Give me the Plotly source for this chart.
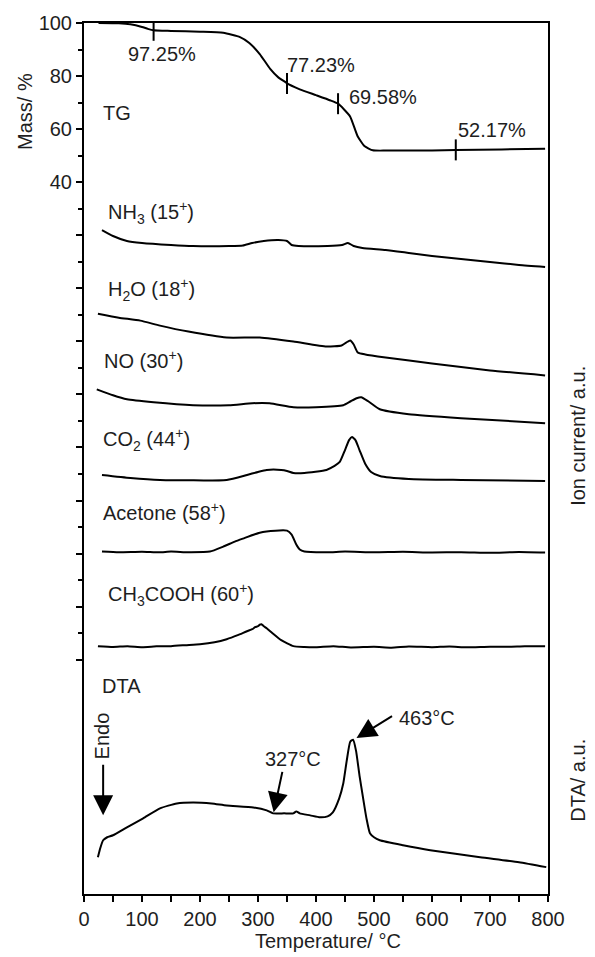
import numpy as np
import plotly.graph_objects as go

# ---------------- TG (mass loss, %) ----------------
tg_temp = [25, 60, 80, 100, 110, 120, 150, 200, 240, 269, 285, 303, 321, 335, 348, 350,
           372, 400, 425, 438, 448, 459, 472, 484, 498, 520, 560, 600, 641, 720, 795]
tg_mass = [100, 99.9, 99.5, 98.5, 97.8, 97.25, 97.0, 96.7, 96.3, 94.7, 92.5, 88.3, 82.7,
           79.5, 77.6, 77.23, 75.0, 72.8, 70.8, 69.58, 67.5, 64.7, 57.2, 53.5, 52.0, 51.9,
           51.9, 51.95, 52.17, 52.35, 52.6]

# labelled mass-loss points
step_temp = [120, 350, 438, 641]
step_mass = [97.25, 77.23, 69.58, 52.17]

# mass axis ticks: every 10 % (longer every 20 %), labels from 40 % up
mass_all = list(range(-140, 101, 10))
mass_major = list(range(-140, 101, 20))
mass_text = [str(v) if v >= 40 else "" for v in mass_major]

# temperature axis ticks, labelled every 100 °C
temp_ticks = list(range(0, 801, 50))
temp_text = [str(v) if v % 100 == 0 else "" for v in temp_ticks]

# ---------------- MS ion currents (a.u.) ----------------
nh3_temp = [31, 50, 74, 100, 150, 188, 250, 274, 290, 310, 335, 350, 358, 370, 420, 445,
            455, 465, 480, 520, 560, 600, 650, 700, 750, 795]
nh3_val = [37, 31, 26, 24, 22, 21, 21, 21.5, 24, 26, 27, 26, 22, 21, 21, 22, 24, 21, 19,
           17, 14, 11, 8, 5, 2, 0]

h2o_temp = [24, 60, 97, 131, 180, 246, 303, 361, 418, 444, 452, 459, 465, 472, 485, 520,
            600, 700, 795]
h2o_val = [62, 58, 55, 50, 44, 38, 38, 34, 29, 30, 33, 35, 31, 23, 21, 18, 12, 5, 0]

no_temp = [22, 50, 74, 120, 188, 250, 290, 320, 361, 400, 447, 460, 470, 478, 490, 510,
           560, 650, 795]
no_val = [34, 28, 24, 21, 18, 18, 20, 20, 16, 16, 18, 22, 25, 26, 22, 14, 9, 5, 0]

co2_temp = [31, 80, 131, 246, 281, 300, 315, 340, 350, 361, 380, 418, 432, 441, 450, 457,
            462, 468, 475, 485, 495, 510, 560, 650, 795]
co2_val = [6, 3, 1, 1, 6, 9, 11, 11, 10, 8, 8, 11, 15, 19, 31, 41, 44, 41, 31, 17, 9, 5,
           2, 1, 0]

acetone_temp = [31, 60, 100, 130, 150, 180, 217, 240, 260, 274, 303, 330, 350, 358, 366,
                372, 380, 420, 450, 500, 550, 600, 650, 700, 750, 795]
acetone_val = [1, 0.3, 0.8, 0.2, 1, 0.4, 1, 6, 11, 14, 20, 22, 22, 18, 8, 3, 1, 0.3, 1,
               0.2, 0.7, 0, 0.4, -0.2, 0.5, 0]

acoh_temp = [24, 50, 75, 100, 125, 150, 175, 200, 225, 246, 265, 281, 290, 295, 300, 303,
             306, 310, 315, 325, 340, 361, 380, 400, 430, 460, 500, 530, 560, 600, 630,
             660, 700, 730, 760, 795]
acoh_val = [1, 0.2, 1, 0, 0.8, 1, 2, 3, 5, 8, 12, 16, 18, 20, 21, 22.5, 23, 21, 19, 14, 7,
            1, 0.2, 0, 1, -0.3, 0.4, -0.5, 0.6, 0, 0.7, -0.2, 0.5, 0.3, 0.9, 1]

# ---------------- DTA (a.u.) ----------------
dta_temp = [24, 28, 33, 40, 50, 74, 102, 131, 160, 188, 220, 246, 292, 315, 326, 345, 361,
            366, 372, 390, 407, 420, 429, 440, 447, 453, 459, 464, 469, 475, 481, 487, 493,
            500, 510, 550, 597, 683, 750, 797]
dta_val = [10, 19, 27, 30, 32, 40, 49, 59, 64, 65, 64, 62, 60, 57, 54, 54, 54, 56, 54, 52,
           50, 51, 55, 69, 84, 107, 126, 128, 117, 92, 70, 49, 34, 30, 27, 22, 17, 10, 5, 0]

# curve labels (rich text) and vertical stacking offsets of each trace
ms_series = [
    ("NH<sub>3</sub> (15<sup>+</sup>)", nh3_temp, nh3_val, 630, 38, 0.782),
    ("H<sub>2</sub>O (18<sup>+</sup>)", h2o_temp, h2o_val, 521, 38, 0.694),
    ("NO (30<sup>+</sup>)", no_temp, no_val, 473, 31, 0.614),
    ("CO<sub>2</sub> (44<sup>+</sup>)", co2_temp, co2_val, 415, 29, 0.522),
    ("Acetone (58<sup>+</sup>)", acetone_temp, acetone_val, 343, 29, 0.439),
    ("CH<sub>3</sub>COOH (60<sup>+</sup>)", acoh_temp, acoh_val, 248, 38, 0.344),
]
dta_offset = 27

FONT = "Liberation Sans, Arial, sans-serif"
TXT = "#1e1e1e"
LINE = dict(color="black", width=2, shape="spline", smoothing=0.5)
MASS_RANGE = [100 - 875 / 2.665, 100]

fig = go.Figure()

fig.add_trace(go.Scatter(x=tg_temp, y=tg_mass, mode="lines", line=LINE,
                         yaxis="y", showlegend=False, hoverinfo="skip"))
fig.add_trace(go.Scatter(x=step_temp, y=step_mass, mode="markers",
                         marker=dict(symbol="line-ns", size=15,
                                     line=dict(color="black", width=2)),
                         yaxis="y", showlegend=False, hoverinfo="skip"))

for name, t, v, off, _, _ in ms_series:
    fig.add_trace(go.Scatter(x=t, y=[val + off for val in v], mode="lines", line=LINE,
                             yaxis="y2", showlegend=False, hoverinfo="skip", name=name))

fig.add_trace(go.Scatter(x=dta_temp, y=[val + dta_offset for val in dta_val], mode="lines",
                         line=LINE, yaxis="y3", showlegend=False, hoverinfo="skip"))

# empty trace so that the labelled mass axis is drawn
fig.add_trace(go.Scatter(x=[None], y=[None], yaxis="y4", showlegend=False, hoverinfo="skip"))

ann = []

# percentage labels on TG steps
tg_label_shift = [(8, -24, "center"), (-2, 18, "left"), (9, 7, "left"), (0, 20, "left")]
for t, m, (dx, dy, xa) in zip(step_temp, step_mass, tg_label_shift):
    ann.append(dict(x=t, y=m, xref="x", yref="y", text=f"{m:.2f}%", showarrow=False,
                    xanchor=xa, yanchor="middle", xshift=dx, yshift=dy,
                    font=dict(size=20, color=TXT, family=FONT)))

# curve names
ann.append(dict(x=29, y=0.897, xref="x", yref="paper", text="TG", showarrow=False,
                xanchor="left", yanchor="middle", font=dict(size=20, color=TXT, family=FONT)))
for name, _, _, _, lx, ly in ms_series:
    ann.append(dict(x=lx, y=ly, xref="x", yref="paper", text=name, showarrow=False,
                    xanchor="left", yanchor="middle",
                    font=dict(size=20, color=TXT, family=FONT)))
ann.append(dict(x=28, y=0.239, xref="x", yref="paper", text="DTA", showarrow=False,
                xanchor="left", yanchor="middle", font=dict(size=20, color=TXT, family=FONT)))

ARROW = dict(arrowhead=2, arrowsize=2, arrowwidth=2, arrowcolor="black", standoff=0)

# Endo direction marker
ann.append(dict(x=31, y=0.182, xref="x", yref="paper", text="Endo", textangle=-90,
                showarrow=False, xanchor="center", yanchor="middle",
                font=dict(size=20, color=TXT, family=FONT)))
ann.append(dict(x=33, y=0.0903, xref="x", yref="paper", text="", showarrow=True,
                ax=0, ay=-52, **ARROW))

# DTA peak annotations
y327 = float(np.interp(327, dta_temp, dta_val)) + dta_offset + 1
ann.append(dict(x=327, y=y327, xref="x", yref="y3", text="", showarrow=True,
                ax=9, ay=-42, **ARROW))
ann.append(dict(x=360, y=0.155, xref="x", yref="paper", text="327°C", showarrow=False,
                xanchor="center", yanchor="middle", font=dict(size=20, color=TXT, family=FONT)))

peak_t = 463
peak_y = float(np.interp(peak_t, dta_temp, dta_val)) + dta_offset + 2
ann.append(dict(x=peak_t, y=peak_y, xref="x", yref="y3", text="", showarrow=True,
                xshift=4, ax=37, ay=-23, **ARROW))
ann.append(dict(x=540, y=0.202, xref="x", yref="paper", text=f"{peak_t}°C", showarrow=False,
                xanchor="left", yanchor="middle", font=dict(size=20, color=TXT, family=FONT)))

# axis titles
ann.append(dict(x=-0.127, y=0.898, xref="paper", yref="paper", text="Mass/ %", textangle=-90,
                showarrow=False, xanchor="center", yanchor="middle",
                font=dict(size=20, color=TXT, family=FONT)))
ann.append(dict(x=1.0647, y=0.526, xref="paper", yref="paper", text="Ion current/ a.u.",
                textangle=-90, showarrow=False, xanchor="center", yanchor="middle",
                font=dict(size=20, color=TXT, family=FONT)))
ann.append(dict(x=1.0647, y=0.130, xref="paper", yref="paper", text="DTA/ a.u.",
                textangle=-90, showarrow=False, xanchor="center", yanchor="middle",
                font=dict(size=20, color=TXT, family=FONT)))
ann.append(dict(x=0.526, y=-0.0537, xref="paper", yref="paper", text="Temperature/ °C",
                showarrow=False, xanchor="center", yanchor="middle",
                font=dict(size=20, color=TXT, family=FONT)))

fig.update_layout(
    width=595, height=957,
    margin=dict(l=84, r=47, t=19, b=63),
    paper_bgcolor="white", plot_bgcolor="white",
    font=dict(family=FONT, size=20, color=TXT),
    xaxis=dict(range=[0, 800], tickmode="array", tickvals=temp_ticks, ticktext=temp_text,
               ticks="outside", ticklen=6, tickwidth=2, tickcolor="black", showline=True,
               linewidth=2, linecolor="black", mirror=True, showgrid=False, zeroline=False,
               tickfont=dict(size=20, color=TXT, family=FONT)),
    # all mass ticks (unlabelled) and frame
    yaxis=dict(range=MASS_RANGE, tickmode="array", tickvals=mass_all,
               ticktext=[""] * len(mass_all), ticks="outside", ticklen=4, tickwidth=2,
               tickcolor="black", showline=True, linewidth=2, linecolor="black",
               mirror=True, showgrid=False, zeroline=False),
    yaxis2=dict(range=[0, 875], overlaying="y", side="right", visible=False),
    yaxis3=dict(range=[0, 875], overlaying="y", side="right", visible=False),
    # longer major mass ticks with labels
    yaxis4=dict(range=MASS_RANGE, overlaying="y", side="left", tickmode="array",
                tickvals=mass_major, ticktext=mass_text, ticks="outside", ticklen=7,
                tickwidth=2, tickcolor="black", showline=False, showgrid=False,
                zeroline=False, tickfont=dict(size=20, color=TXT, family=FONT)),
    annotations=ann,
)

fig.write_html("out.html")
